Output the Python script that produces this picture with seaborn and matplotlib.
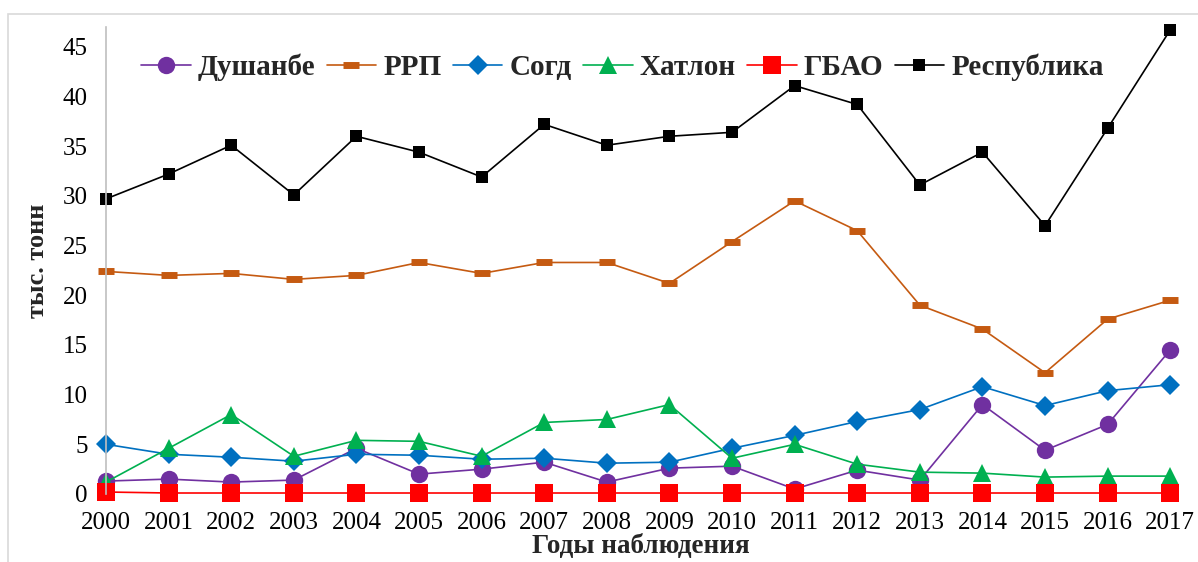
import matplotlib
matplotlib.use("Agg")
import matplotlib.pyplot as plt
import seaborn as sns
import pandas as pd
from matplotlib.patches import Rectangle

years = list(range(2000, 2018))
dushanbe = [1.3, 1.5, 1.2, 1.4, 4.6, 2.0, 2.5, 3.2, 1.2, 2.6, 2.8, 0.5, 2.4, 1.4, 9.0, 4.4, 7.0, 14.5]
rrp = [22.4, 22.0, 22.2, 21.6, 22.0, 23.3, 22.2, 23.3, 23.3, 21.2, 25.4, 29.5, 26.5, 19.0, 16.6, 12.2, 17.6, 19.5]
sogd = [5.0, 4.0, 3.7, 3.3, 4.0, 3.9, 3.5, 3.6, 3.1, 3.2, 4.6, 5.9, 7.3, 8.5, 10.8, 8.9, 10.4, 11.0]
khatlon = [1.2, 4.6, 8.0, 3.8, 5.4, 5.3, 3.8, 7.2, 7.5, 9.0, 3.6, 5.0, 3.0, 2.2, 2.1, 1.7, 1.8, 1.8]
gbao = [0.2, 0.1, 0.1, 0.1, 0.1, 0.1, 0.1, 0.1, 0.1, 0.1, 0.1, 0.1, 0.1, 0.1, 0.1, 0.1, 0.1, 0.1]
republic = [29.7, 32.2, 35.1, 30.1, 36.0, 34.4, 31.9, 37.2, 35.1, 36.0, 36.4, 41.1, 39.2, 31.1, 34.4, 27.0, 36.8, 46.7]

names = ["Душанбе", "РРП", "Согд", "Хатлон", "ГБАО", "Республика"]
series = [dushanbe, rrp, sogd, khatlon, gbao, republic]
colors = ["#7030A0", "#C55A11", "#0070C0", "#00B050", "#FF0000", "#000000"]
markers = ["o", "_", "D", "^", "s", "s"]
msizes = [12.5, 12, 10.5, 12.5, 12.5, 8]
mews = [0, 5, 0, 0, 0, 0]
yticks = list(range(0, 50, 5))

sns.set_theme(style="white")
plt.rcParams["font.family"] = ["Liberation Serif", "DejaVu Serif"]

fig = plt.figure(figsize=(11.98, 5.62), dpi=100)
ax = fig.add_axes([0.0885, 0.121, 0.8925, 0.831])

fig.patches.append(Rectangle((8 / 1198, -0.1), 1.2, (562 - 14) / 562 + 0.1,
                             transform=fig.transFigure, fill=False,
                             edgecolor="#D9D9D9", linewidth=1.2, zorder=0))

for name, vals, c, m, ms, mew in zip(names, series, colors, markers, msizes, mews):
    df = pd.DataFrame({"year": years, "value": vals})
    sns.lineplot(data=df, x="year", y="value", ax=ax, color=c, marker=m,
                 markersize=ms, markeredgewidth=mew, markeredgecolor=c,
                 linewidth=1.2, label=name, clip_on=False)

ax.set_xlim(2000, 2017.08)
ax.set_ylim(0, 47)
ax.set_xticks(years)
ax.set_xticklabels([str(y) for y in years], fontsize=18)
ax.set_yticks(yticks)
ax.set_yticklabels([str(v) for v in yticks], fontsize=18)
ax.tick_params(axis="x", length=0, pad=13, colors="black")
ax.tick_params(axis="y", length=0, pad=13, colors="black")

for s in ["top", "right", "bottom"]:
    ax.spines[s].set_visible(False)
ax.spines["left"].set_color("#BFBFBF")
ax.spines["left"].set_linewidth(1.2)

ax.set_xlabel("Годы наблюдения", fontsize=19.5, fontweight="bold", labelpad=0)
ax.set_ylabel("тыс. тонн", fontsize=19, fontweight="bold", labelpad=10)

ax.legend(loc="center", bbox_to_anchor=(0.483, 0.914), ncol=6, frameon=False,
          prop={"size": 21, "weight": "bold"}, handlelength=1.7,
          columnspacing=0.38, handletextpad=0.25, borderpad=0)

fig.savefig("out.png", dpi=100)
